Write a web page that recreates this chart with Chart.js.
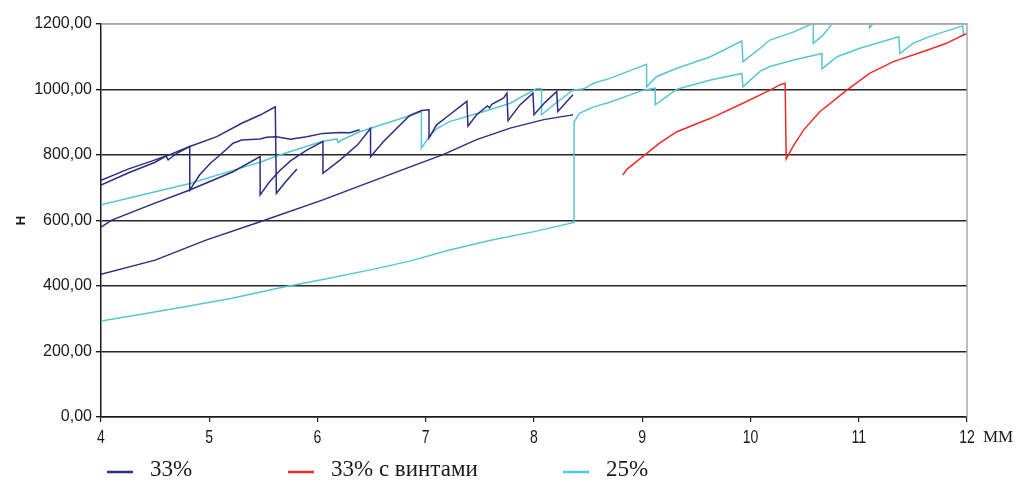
<!DOCTYPE html>
<html>
<head>
<meta charset="utf-8">
<script src="https://cdn.jsdelivr.net/npm/chart.js@4.4.1/dist/chart.umd.min.js"></script>
<style>
  html, body { margin: 0; padding: 0; background: #ffffff; }
  #wrap { width: 1017px; height: 482px; position: relative; }
</style>
</head>
<body>
<div id="wrap"><canvas id="c" width="1017" height="482"></canvas></div>
<script>
// Tick labels
const xTickLabels = ['4', '5', '6', '7', '8', '9', '10', '11', '12'];
const yTickLabels = ['0,00', '200,00', '400,00', '600,00', '800,00', '1000,00', '1200,00'];
const xUnit = 'ММ';
const yTitle = 'Н';

// Series names
const seriesNames = ['33%', '33% с винтами', '25%'];

// 33% — specimen curves (displacement, mm / load)
const b1X = [4.00, 4.50, 4.97, 5.47, 6.05, 6.85, 7.16, 7.47, 7.78, 8.09, 8.33, 8.36];
const b1Y = [436, 479, 540, 596, 663, 763, 801, 847, 882, 908, 921, 923];

const b2X = [4.00, 4.10, 4.45, 4.82, 5.22, 5.47, 5.47, 5.55, 5.65, 5.75, 5.90, 6.05, 6.05, 6.21, 6.37, 6.49, 6.49, 6.61, 6.73, 6.85, 6.96, 7.03,
             7.03, 7.10, 7.22, 7.38, 7.39, 7.47, 7.57, 7.59, 7.61, 7.72, 7.75, 7.76, 7.87, 7.99, 8.00, 8.10, 8.21, 8.22, 8.36];
const b2Y = [580, 601, 647, 693, 749, 795, 678, 715, 752, 782, 815, 841, 744, 785, 831, 881, 795, 841, 881, 920, 936, 938,
             852, 892, 923, 964, 888, 923, 950, 944, 955, 974, 989, 905, 953, 989, 923, 960, 994, 933, 984];

const b3X = [4.00, 4.25, 4.50, 4.62, 4.82, 5.07, 5.30, 5.47, 5.61, 5.62, 5.70, 5.81];
const b3Y = [723, 757, 785, 799, 826, 856, 897, 922, 947, 683, 716, 757];

const b4X = [4.00, 4.25, 4.50, 4.60, 4.62, 4.64, 4.70, 4.82, 4.82, 4.91, 5.01, 5.10, 5.22, 5.30, 5.47, 5.53, 5.62, 5.75, 5.90, 6.05, 6.21, 6.30, 6.39];
const b4Y = [708, 745, 778, 797, 785, 790, 805, 826, 693, 739, 775, 800, 836, 846, 849, 854, 856, 848, 856, 866, 869, 868, 877];

// 33% с винтами
const r1X = [8.82, 8.86, 9.03, 9.16, 9.32, 9.63, 9.93, 10.18, 10.27, 10.32, 10.33, 10.40, 10.49, 10.64, 10.89, 11.10, 11.32, 11.63, 11.81, 11.97, 12.00];
const r1Y = [739, 757, 802, 836, 871, 912, 958, 998, 1014, 1019, 788, 830, 876, 932, 998, 1049, 1085, 1120, 1141, 1167, 1171];

// 25%
const c1X = [4.00, 4.40, 4.80, 5.20, 5.70, 6.05, 6.50, 6.85, 7.22, 7.60, 8.00, 8.37, 8.37, 8.42, 8.55, 8.70, 9.01, 9.12, 9.12, 9.32, 9.63, 9.92, 9.93,
             10.09, 10.18, 10.40, 10.66, 10.66, 10.80, 11.01, 11.37, 11.38, 11.50, 11.69, 11.94, 11.96, 11.97];
const c1Y = [293, 315, 338, 362, 398, 420, 450, 476, 510, 540, 566, 594, 901, 927, 947, 961, 998, 1004, 953, 1001, 1029, 1049, 1008,
             1056, 1070, 1090, 1110, 1063, 1100, 1126, 1161, 1110, 1141, 1166, 1192, 1194, 1163];

const c2X = [4.00, 4.82, 5.38, 5.47, 5.65, 6.04, 6.18, 6.19, 6.22, 6.39, 6.85, 6.96, 6.96, 7.03, 7.10, 7.22, 7.53, 7.78, 8.02, 8.07, 8.07, 8.20, 8.36, 8.46,
             8.55, 8.70, 9.04, 9.04, 9.13, 9.32, 9.63, 9.92, 9.93, 10.09, 10.18, 10.40, 10.58, 10.58, 10.67, 10.75, 11.09, 11.10, 11.14, 11.50];
const c2Y = [648, 713, 769, 778, 800, 841, 849, 838, 845, 871, 920, 933, 821, 855, 880, 902, 932, 958, 1002, 1003, 923, 958, 998, 1002,
             1019, 1034, 1077, 1008, 1039, 1065, 1100, 1148, 1085, 1126, 1151, 1176, 1202, 1141, 1166, 1199, 1240, 1188, 1205, 1250];

const seriesColors = ['#2c2e82', '#f22a2a', '#57c5d6'];

function pts(xs, ys) { return xs.map((x, i) => ({ x: x, y: ys[i] })); }

const curves = [
  { s: 0, data: pts(b1X, b1Y) },
  { s: 0, data: pts(b2X, b2Y) },
  { s: 0, data: pts(b3X, b3Y) },
  { s: 0, data: pts(b4X, b4Y) },
  { s: 1, data: pts(r1X, r1Y) },
  { s: 2, data: pts(c1X, c1Y) },
  { s: 2, data: pts(c2X, c2Y) }
];

const datasets = curves.map(c => ({
  label: seriesNames[c.s],
  data: c.data,
  borderColor: seriesColors[c.s],
  backgroundColor: seriesColors[c.s],
  borderWidth: 1.5,
  pointRadius: 0,
  tension: 0,
  fill: false
}));

// Frame, condensed x tick labels, unit label and legend
const legendSlots = [107, 288, 563];
const extras = {
  id: 'extras',
  afterDraw(chart) {
    const ctx = chart.ctx;
    const area = chart.chartArea;
    const xs = chart.scales.x;
    ctx.save();
    // frame on the top and right sides
    ctx.strokeStyle = '#a8a8a8';
    ctx.lineWidth = 1.5;
    ctx.beginPath();
    ctx.moveTo(area.left, area.top);
    ctx.lineTo(area.right, area.top);
    ctx.lineTo(area.right, area.bottom);
    ctx.stroke();

    // x tick labels in a narrow face
    ctx.fillStyle = '#1a1a1a';
    ctx.font = '19px "Liberation Sans", Arial, sans-serif';
    ctx.textBaseline = 'middle';
    ctx.textAlign = 'center';
    xTickLabels.forEach(lbl => {
      const px = xs.getPixelForValue(Number(lbl));
      ctx.save();
      ctx.translate(px, 438);
      ctx.scale(0.74, 1);
      ctx.fillText(lbl, 0, 0);
      ctx.restore();
    });

    // unit
    ctx.textAlign = 'left';
    ctx.font = '17px "Liberation Serif", "Times New Roman", serif';
    ctx.fillText(xUnit, area.right + 16, 438);

    // legend
    ctx.font = '23px "Liberation Serif", "Times New Roman", serif';
    seriesNames.forEach((name, i) => {
      const x0 = legendSlots[i];
      ctx.strokeStyle = seriesColors[i];
      ctx.lineWidth = 2.5;
      ctx.beginPath();
      ctx.moveTo(x0, 472);
      ctx.lineTo(x0 + 26, 472);
      ctx.stroke();
      ctx.fillStyle = '#1a1a1a';
      ctx.fillText(name, x0 + 43, 470);
    });
    ctx.restore();
  }
};

new Chart(document.getElementById('c'), {
  type: 'line',
  data: { datasets: datasets },
  options: {
    responsive: false,
    animation: false,
    events: [],
    layout: { padding: { top: 24, right: 50, bottom: 0, left: 0 } },
    plugins: { legend: { display: false }, tooltip: { enabled: false } },
    scales: {
      x: {
        type: 'linear',
        min: 4, max: 12,
        afterFit(scale) { scale.height = 65; },
        border: { display: true, color: '#1a1a1a', width: 1.5 },
        grid: { drawOnChartArea: false, drawTicks: true, tickLength: 5, tickColor: '#1a1a1a', lineWidth: 1.2 },
        ticks: {
          stepSize: 1,
          maxRotation: 0,
          color: 'rgba(0,0,0,0)',
          font: { size: 12 }
        }
      },
      y: {
        min: 0, max: 1200,
        afterFit(scale) { scale.width = 101; },
        border: { display: true, color: '#1a1a1a', width: 1.5 },
        grid: {
          drawTicks: true, tickLength: 5, tickColor: '#1a1a1a', lineWidth: 1.4,
          color: ctx => (ctx.tick && ctx.tick.value === 1200) ? '#a8a8a8' : '#262626'
        },
        title: {
          display: true, text: yTitle, color: '#1a1a1a',
          font: { family: '"Liberation Sans", Arial, sans-serif', size: 13, weight: 'bold' },
          padding: { top: 14, bottom: 0 }
        },
        ticks: {
          stepSize: 200,
          padding: 4,
          color: '#1a1a1a',
          font: { family: '"Liberation Sans", Arial, sans-serif', size: 16 },
          callback: (v, i) => yTickLabels[i]
        }
      }
    }
  },
  plugins: [extras]
});
</script>
</body>
</html>
